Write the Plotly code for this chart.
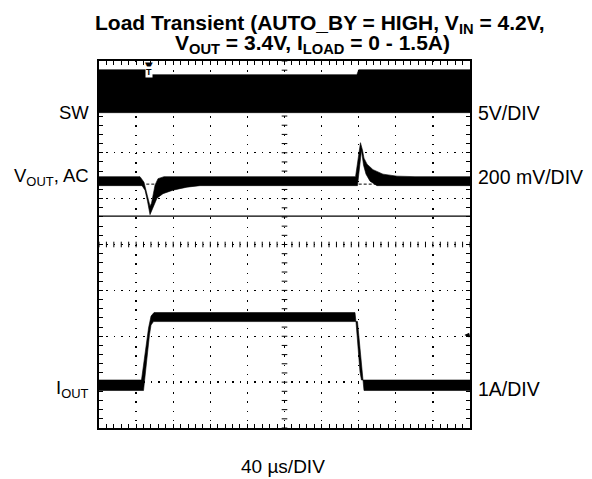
import plotly.graph_objects as go

# ---------------- data ----------------
# time axis, µs (40 µs/div, 10 divisions)
t_per_div = 40
n_xdiv = 10
n_ydiv = 8

# SW channel (V), 5 V/div, ground marker position in divisions
sw_gnd_div = 6.874
sw_v_per_div = 5
sw_t_hi = [0, 55, 57, 278, 280, 400]
sw_v_hi = [4.68, 4.68, 4.14, 4.14, 4.68, 4.68]
sw_t_lo = [0, 400]
sw_v_lo = [0.0, 0.0]

# VOUT AC channel (mV), 200 mV/div -- upper and lower edges of the noisy trace
vout_gnd_div = 5.381
vout_mv_per_div = 200
vout_t_hi = [0, 44.2, 48.5, 52.8, 55.0, 56.6, 58.2, 60.4, 63.6, 70.1,
             276.6, 281.9, 284.1, 285.7, 289.0, 295.4, 306.2, 321.3, 340.7, 400]
vout_mv_hi = [19.6, 19.6, -4.4, -74.1, -108.9, -95.9, -61.0, -17.4, 10.9, 19.6,
              19.6, 167.7, 135.1, 100.2, 74.1, 50.1, 30.5, 21.8, 19.6, 19.6]
vout_t_lo = [0, 46.4, 49.6, 52.3, 55.0, 57.1, 59.8, 62.5, 69.0, 79.8, 94.9, 108.9,
             278.7, 283.0, 285.2, 287.9, 292.2, 299.7, 400]
vout_mv_lo = [-19.6, -19.6, -39.2, -87.1, -146.0, -126.4, -100.2, -74.1, -54.5, -39.2, -26.1, -19.6,
              -19.6, 135.1, 69.7, 30.5, 0.0, -19.6, -19.6]
vout_ref_t = [51, 69, None, 280, 300]      # dashed DC-level marks
vout_ref_mv = [-13, -13, None, -13, -13]

# IOUT channel (A), 1 A/div -- upper and lower edges of the trace
iout_gnd_div = 0.926
iout_a_per_div = 1
iout_t_hi = [0, 45.8, 48.0, 53.4, 56.1, 59.3, 276.0, 277.1, 281.4, 283.0, 400]
iout_a_hi = [0.12, 0.12, 0.447, 1.253, 1.514, 1.59, 1.59, 1.383, 0.294, 0.12, 0.12]
iout_t_lo = [0, 48.0, 49.6, 54.4, 56.1, 58.8, 278.7, 284.6, 285.7, 400]
iout_a_lo = [-0.109, -0.109, 0.229, 1.10, 1.318, 1.394, 1.394, 0.12, -0.109, -0.109]

trig_t = 54.2          # trigger position, µs
trig_level_a = 1.10    # trigger level (on IOUT), A
sep_div = 4.62         # solid reference line, divisions

left_labels = ["SW", "V<sub>OUT</sub>, AC", "I<sub>OUT</sub>"]
right_labels = ["5V/DIV", "200 mV/DIV", "1A/DIV"]
title_l1 = "<b>Load Transient (AUTO_BY = HIGH, V<sub>IN</sub> = 4.2V,</b>"
title_l2 = "<b>V<sub>OUT</sub> = 3.4V, I<sub>LOAD</sub> = 0 - 1.5A)</b>"
x_label = "40 µs/DIV"

# ---------------- figure ----------------
FONT = "Liberation Sans, Arial, Helvetica, sans-serif"
W, H = 592, 479
ML, MR, MT, MB = 99, 122, 61, 51

fig = go.Figure()


def band(t_hi, v_hi, t_lo, v_lo, yaxis):
    xs = list(t_hi) + list(t_lo)[::-1]
    ys = list(v_hi) + list(v_lo)[::-1]
    return go.Scatter(x=xs, y=ys, mode="lines", fill="toself", fillcolor="black",
                      line=dict(color="black", width=0.6), yaxis=yaxis,
                      hoverinfo="skip", showlegend=False)


x_end = t_per_div * n_xdiv

# graticule center crosshair ticks
cx = [t_per_div * k / 5 for k in range(n_xdiv * 5 + 1)]
cy = [k / 5 for k in range(n_ydiv * 5 + 1)]
fig.add_trace(go.Scatter(x=cx, y=[n_ydiv / 2] * len(cx), mode="markers",
                         marker=dict(symbol="line-ns", size=4, line=dict(width=1, color="black")),
                         hoverinfo="skip", showlegend=False))
fig.add_trace(go.Scatter(x=[x_end / 2] * len(cy), y=cy, mode="markers",
                         marker=dict(symbol="line-ew", size=4, line=dict(width=1, color="black")),
                         hoverinfo="skip", showlegend=False))

# channels
fig.add_trace(band(sw_t_hi, sw_v_hi, sw_t_lo, sw_v_lo, "y2"))
fig.add_trace(go.Scatter(x=vout_ref_t, y=vout_ref_mv, mode="lines", yaxis="y3",
                         line=dict(color="black", width=1, dash="3px,2px"),
                         hoverinfo="skip", showlegend=False))
fig.add_trace(band(vout_t_hi, vout_mv_hi, vout_t_lo, vout_mv_lo, "y3"))
fig.add_trace(band(iout_t_hi, iout_a_hi, iout_t_lo, iout_a_lo, "y4"))

# solid reference line
fig.add_shape(type="line", xref="paper", x0=0, x1=1, yref="y", y0=sep_div, y1=sep_div,
              line=dict(color="black", width=1.2))


def ch_range(gnd, per_div):
    return [-gnd * per_div, (n_ydiv - gnd) * per_div]


axis_common = dict(showline=True, linewidth=2.2, linecolor="black", mirror="allticks",
                   ticks="inside", ticklen=4, tickcolor="black", showticklabels=False,
                   zeroline=False, showgrid=True, gridcolor="#000000", gridwidth=1.4,
                   fixedrange=True)

fig.update_layout(
    width=W, height=H, autosize=False,
    margin=dict(l=ML, r=MR, t=MT, b=MB),
    paper_bgcolor="white", plot_bgcolor="white",
    font=dict(family=FONT, size=19, color="black"),
    showlegend=False,
    xaxis=dict(range=[0, x_end], dtick=t_per_div, tick0=0, griddash="1.4px,7.8px",
               minor=dict(dtick=t_per_div / 5, ticks="inside", ticklen=4, tickcolor="black", showgrid=False),
               **axis_common),
    yaxis=dict(range=[0, n_ydiv], dtick=1, tick0=0, griddash="1.4px,6px",
               minor=dict(dtick=0.2, ticks="inside", ticklen=4, tickcolor="black", showgrid=False),
               **axis_common),
    yaxis2=dict(overlaying="y", range=ch_range(sw_gnd_div, sw_v_per_div), visible=False, fixedrange=True),
    yaxis3=dict(overlaying="y", range=ch_range(vout_gnd_div, vout_mv_per_div), visible=False, fixedrange=True),
    yaxis4=dict(overlaying="y", range=ch_range(iout_gnd_div, iout_a_per_div), visible=False, fixedrange=True),
)

# channel labels (at each channel's ground level)
for lab_l, lab_r, ax, ys in zip(left_labels, right_labels, ["y2", "y3", "y4"], [0, 4, -3]):
    fig.add_annotation(text=lab_l, x=0, xref="paper", xanchor="right", xshift=-8,
                       y=0, yref=ax, yanchor="middle", yshift=ys, showarrow=False,
                       font=dict(family=FONT, size=18.5))
    fig.add_annotation(text=lab_r, x=1, xref="paper", xanchor="left", xshift=6,
                       y=0, yref=ax, yanchor="middle", yshift=ys, showarrow=False,
                       font=dict(family=FONT, size=19.5))

# title
fig.add_annotation(text=title_l1, x=0.5957, xref="paper", y=1.1008, yref="paper",
                   xanchor="center", yanchor="middle", showarrow=False,
                   font=dict(family=FONT, size=21))
fig.add_annotation(text=title_l2, x=0.5768, xref="paper", y=1.0463, yref="paper",
                   xanchor="center", yanchor="middle", showarrow=False,
                   font=dict(family=FONT, size=21))

# x scale label
fig.add_annotation(text=x_label, x=0.497, xref="paper", y=-0.106, yref="paper",
                   xanchor="center", yanchor="middle", showarrow=False,
                   font=dict(family=FONT, size=19))

# trigger position marker
fig.add_annotation(text="▼", x=trig_t, xref="x", y=1, yref="paper", yanchor="top",
                   showarrow=False, font=dict(family="DejaVu Sans", size=10, color="black"), yshift=3)
fig.add_annotation(text="<b>T</b>", x=trig_t, xref="x", y=1, yref="paper", yanchor="top",
                   showarrow=False, font=dict(size=9, color="black"), bgcolor="white",
                   yshift=-5, borderpad=0)

# trigger level marker (right edge)
fig.add_annotation(text="", x=x_end - 6, xref="x", y=trig_level_a, yref="y4",
                   showarrow=True, ax=8, ay=0, arrowhead=2, arrowsize=0.8,
                   arrowwidth=1.2, arrowcolor="black")

fig.write_html("out.html", config={"displayModeBar": False, "staticPlot": True},
               post_script="document.body.style.margin='0px';")
